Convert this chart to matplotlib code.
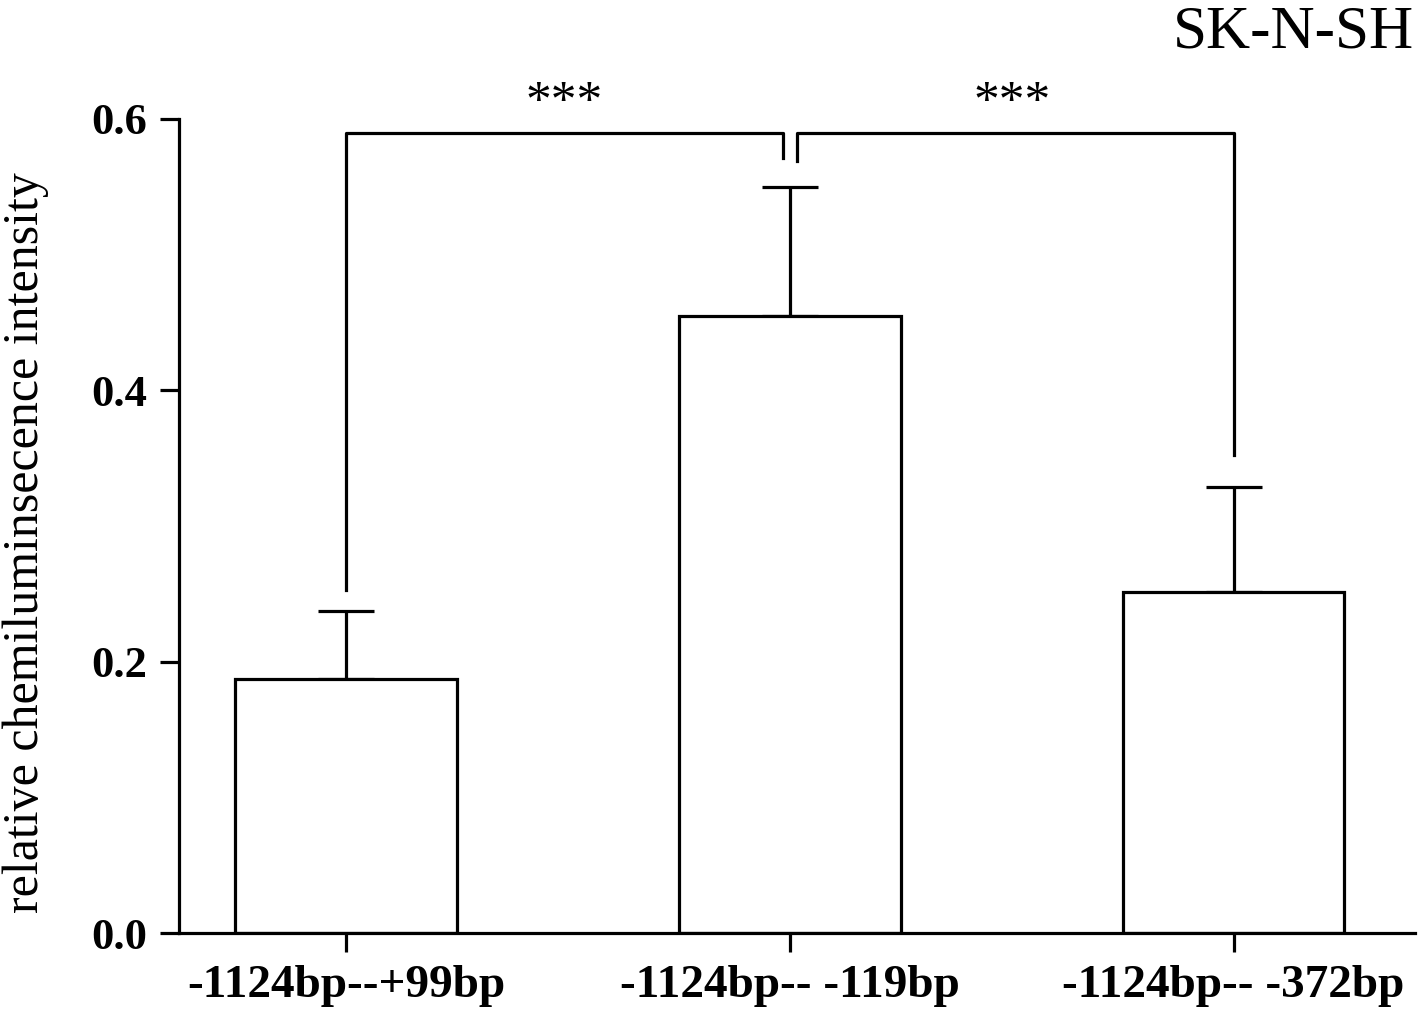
import matplotlib.pyplot as plt
import numpy as np

plt.rcParams['font.family'] = ['Liberation Serif', 'DejaVu Serif']

categories = ["-1124bp--+99bp", "-1124bp-- -119bp", "-1124bp-- -372bp"]
means = [0.187, 0.455, 0.251]
errors = [0.050, 0.095, 0.078]
y_ticks = [0.0, 0.2, 0.4, 0.6]

fig = plt.figure(figsize=(14.18, 10.1), dpi=100)
ax = fig.add_axes([0.1262, 0.0762, 0.872, 0.806])

x = np.arange(len(categories))
lw = 2.3
ax.bar(x, means, width=0.5, color="white", edgecolor="black", linewidth=lw, zorder=2)
# upper error bars only
ax.errorbar(x, means, yerr=[np.zeros(3), errors], fmt="none", ecolor="black",
            elinewidth=lw, capsize=20, capthick=lw, zorder=1)

ax.set_xlim(-0.377, 2.41)
ax.set_ylim(0, 0.6)
ax.set_yticks(y_ticks)
ax.set_yticklabels([f"{v:.1f}" for v in y_ticks], fontsize=32, fontweight="bold")
ax.set_xticks(x)
ax.set_xticklabels(categories, fontsize=34, fontweight="bold")
ax.tick_params(axis="both", length=14, width=lw, direction="out", pad=9)
ax.spines["top"].set_visible(False)
ax.spines["right"].set_visible(False)
ax.spines["left"].set_linewidth(lw)
ax.spines["bottom"].set_linewidth(lw)
ax.spines["left"].set_bounds(0, 0.6)
ax.set_ylabel("relative chemiluminsecence intensity", fontsize=36)
ax.yaxis.set_label_coords(-0.105, 0.48)

# significance brackets
yb = 0.59
ax.plot([0, 0, 0.984, 0.984], [0.253, yb, yb, 0.571], color="black", lw=lw, clip_on=False)
ax.plot([1.016, 1.016, 2, 2], [0.569, yb, yb, 0.352], color="black", lw=lw, clip_on=False)
ax.text(0.49, 0.595, "***", ha="center", va="bottom", fontsize=37)
ax.text(1.5, 0.595, "***", ha="center", va="bottom", fontsize=37)

fig.text(0.997, 0.968, "SK-N-SH", ha="right", va="center", fontsize=44)

fig.savefig("out.png", dpi=100)
